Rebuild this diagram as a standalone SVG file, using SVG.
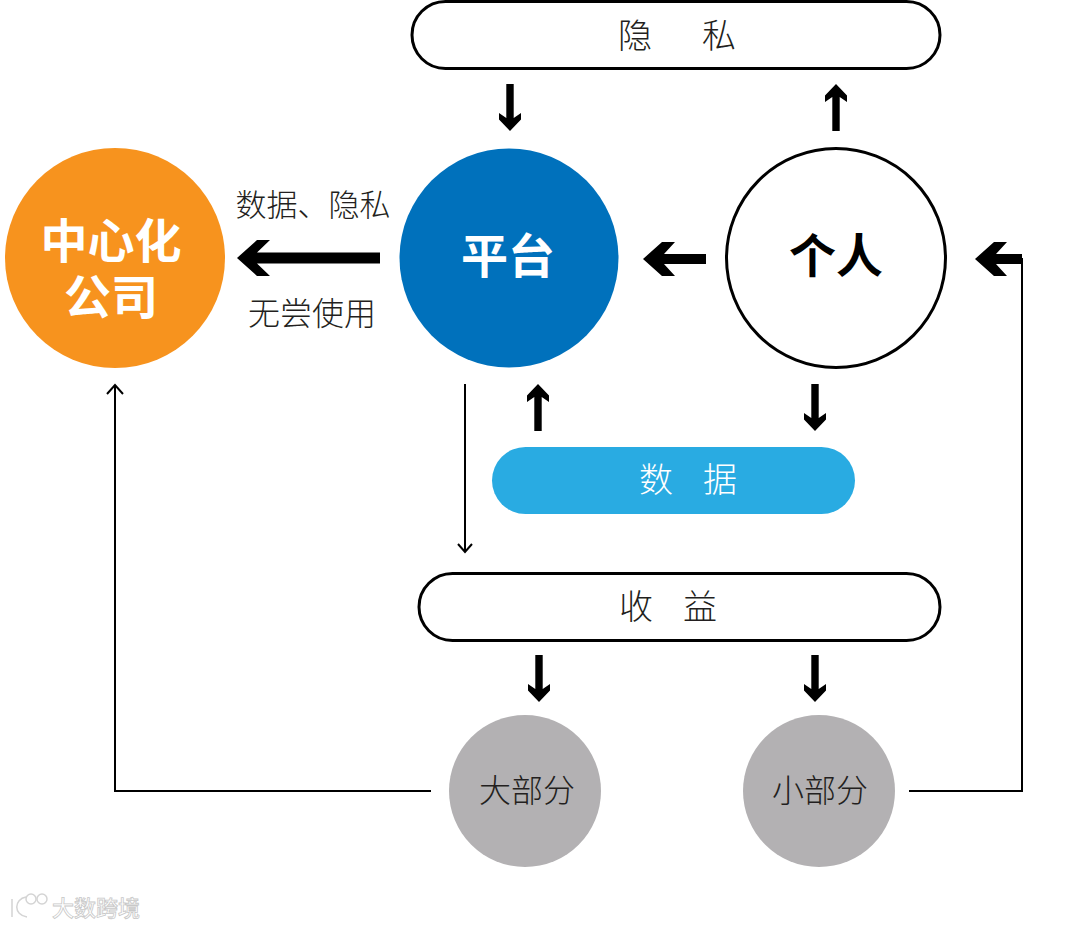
<svg xmlns="http://www.w3.org/2000/svg" width="1080" height="927" viewBox="0 0 1080 927">
<defs>
<style>
text{font-family:"Noto Sans CJK SC","Noto Sans",sans-serif;text-anchor:middle;font-weight:300;fill:#231f20}
.pill{fill:#fff;stroke:#000;stroke-width:3}
.thin{fill:none;stroke:#000;stroke-width:2}
.open{fill:none;stroke:#000;stroke-width:2}
.t34{font-size:34px}
.t32{font-size:32px}
.t31{font-size:31px}
.b{font-weight:700;font-size:47px}
.w{fill:#fff}
.wm{fill:none;stroke:#d4d4d4;stroke-width:1.500}
</style>
<path id="au" d="M0 0L11 11.500L11 18L3.700 13L3.700 47L-3.700 47L-3.700 13L-11 18L-11 11.500Z" fill="#000"/>
<path id="ad" d="M0 47L11 35.500L11 29L3.700 34L3.700 0L-3.700 0L-3.700 34L-11 29L-11 35.500Z" fill="#000"/>
</defs>
<rect width="1080" height="927" fill="#fff"/>
<g id="connectors">
<use href="#ad" x="510" y="84"/>
<use href="#au" x="836" y="84"/>
<use href="#ad" x="815" y="384"/>
<use href="#au" x="538" y="384"/>
<use href="#ad" x="539" y="655"/>
<use href="#ad" x="815" y="655"/>
<path d="M237 258L257 240L270 240L257 252.500L380 252.500L380 263.500L257 263.500L270 276L257 276Z" fill="#000"/>
<path d="M643 259L662 242L675 242L664 254L706 254L706 264L664 264L675 276L662 276Z" fill="#000"/>
<path d="M975 259L994 242L1007 242L996 254L1022 254L1022 264L996 264L1007 276L994 276Z" fill="#000"/>
<path class="thin" d="M909 791L1022 791L1022 258"/>
<path class="thin" d="M431 791L115 791L115 385"/>
<path class="open" d="M107 394L115 385L123 394"/>
<path class="thin" d="M465 384L465 552"/>
<path class="open" d="M458 544L465 552L472 544"/>
</g>
<g id="privacy"><rect class="pill" x="412" y="1.500" width="528" height="67" rx="33.500"/><text class="t34" y="48"><tspan x="635">隐</tspan><tspan x="719">私</tspan></text></g>
<g id="company"><circle cx="115" cy="258" r="110" fill="#f7931e"/><text class="b w" x="111" y="258">中心化</text><text class="b w" x="111" y="314">公司</text></g>
<g id="platform"><circle cx="509" cy="258" r="109.500" fill="#0071bc"/><text class="b w" x="508" y="273">平台</text></g>
<g id="person"><circle cx="836" cy="258" r="109.500" fill="#fff" stroke="#000" stroke-width="3"/><text class="b" style="fill:#000" x="836" y="273">个人</text></g>
<g id="data"><rect x="492" y="447" width="363" height="67" rx="33.500" fill="#29abe2"/><text class="t34 w" y="492"><tspan x="656">数</tspan><tspan x="720">据</tspan></text></g>
<g id="income"><rect class="pill" x="419" y="573.500" width="521" height="67" rx="33.500"/><text class="t34" y="619"><tspan x="636">收</tspan><tspan x="700">益</tspan></text></g>
<g id="major"><circle cx="525" cy="791" r="76" fill="#b3b1b3"/><text class="t32" x="527" y="802">大部分</text></g>
<g id="minor"><circle cx="819" cy="791" r="76" fill="#b3b1b3"/><text class="t32" x="820" y="802">小部分</text></g>
<g id="labels"><text class="t31" x="313" y="216">数据、隐私</text><text class="t32" x="312" y="325">无尝使用</text></g>
<g id="watermark"><path class="wm" d="M12 899L12 917M26 897C14 899 13 915 27 917"/><circle class="wm" cx="31" cy="899" r="5"/><circle class="wm" cx="42" cy="899" r="5"/><text x="96" y="916" style="font-size:22px;fill:#fff;stroke:#c8c8c8;stroke-width:.8;font-weight:500">大数跨境</text></g>
</svg>
